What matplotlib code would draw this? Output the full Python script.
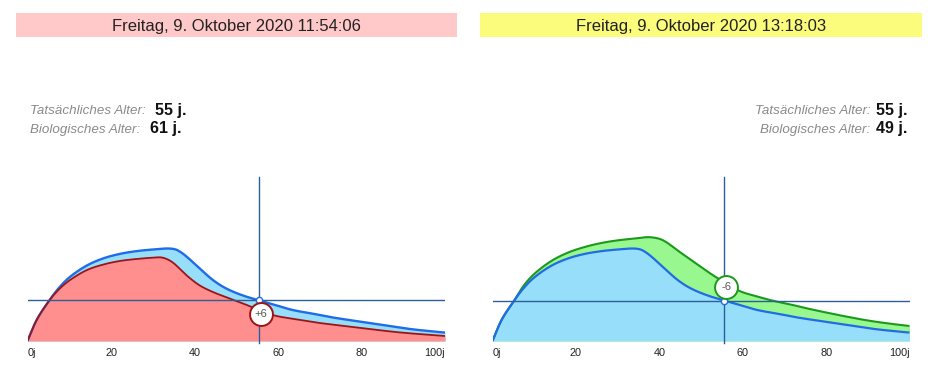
import numpy as np
import matplotlib
matplotlib.use("Agg")
import matplotlib.pyplot as plt
from matplotlib.patches import Rectangle
from matplotlib.transforms import offset_copy

plt.rcParams['font.family'] = ['Liberation Sans', 'DejaVu Sans']

# ---------------- data ----------------
headers = ["Freitag, 9. Oktober 2020 11:54:06", "Freitag, 9. Oktober 2020 13:18:03"]
actual_ages = [55, 55]            # shown in the text
actual_ages_exact = [55.4, 55.6]  # position of the cross-hair
bio_ages = [61, 49]
label_actual = "Tatsächliches Alter:"
label_bio = "Biologisches Alter:"
tick_pos = [0, 20, 40, 60, 80, 100]
tick_labels = ["0j", "20", "40", "60", "80", "100j"]

# reference (ideal) curve, shown blue in both panels
blue_age = [0, 2.15, 5.2, 7.5, 10, 14, 18, 22, 26, 30, 33.5, 35.5, 37, 38.5,
            41, 44.4, 47.6, 51.6, 55.4, 59.6, 63.5, 69, 73, 77, 81, 85, 89, 93, 100]
blue_val = [0, 20.7, 40.4, 53, 63.5, 75, 82.4, 87, 89.8, 91.5, 92.5, 91.5, 88,
            83, 73.5, 61, 52.5, 45.5, 40.7, 35.7, 31, 26.8, 23.6, 21, 18.5, 16,
            13.5, 11.3, 8.4]

# biological curve, left panel (older: red)
red_age = [0, 2.15, 5.2, 7.5, 10.1, 14.1, 18.1, 22.1, 26.1, 30, 32.4, 34.8,
           38, 41.2, 44.4, 47.6, 51.6, 54, 58.8, 63.5, 69.1, 73.1, 81.1, 89.1, 100]
red_val = [0, 20.7, 40.4, 51.5, 60.7, 70.7, 76.4, 80, 82, 83.3, 83.3, 78.5,
           66, 55.7, 49, 43.8, 37.6, 33.4, 25.9, 22.2, 18.5, 16.4, 12.4, 8.6, 5]

# biological curve, right panel (younger: green)
green_age = [0, 2.15, 5.2, 7.5, 10.1, 14.1, 18.1, 22.1, 26.1, 30.1, 34.1, 37.7,
             40.9, 44.9, 48.9, 52.9, 59, 63, 67, 71, 75, 80, 85, 90, 95, 100]
green_val = [0, 21, 40.4, 55.5, 67.4, 80, 88.4, 94, 98, 100.7, 102.4, 103.8,
             100.7, 89, 77.4, 65.7, 50.5, 45, 40.5, 37, 33, 28.5, 24.3, 20.5,
             17.5, 15]


def smooth(x, y, xn):
    """Cubic Hermite curve through the points, finite-difference tangents."""
    x = np.asarray(x, float); y = np.asarray(y, float)
    h = np.diff(x); d = np.diff(y) / h
    m = np.zeros_like(y)
    m[1:-1] = (y[2:] - y[:-2]) / (x[2:] - x[:-2])
    m[0] = d[0]; m[-1] = d[-1]
    idx = np.clip(np.searchsorted(x, xn) - 1, 0, len(h) - 1)
    t = (xn - x[idx]) / h[idx]
    h00 = 2 * t**3 - 3 * t**2 + 1; h10 = t**3 - 2 * t**2 + t
    h01 = -2 * t**3 + 3 * t**2; h11 = t**3 - t**2
    return h00 * y[idx] + h10 * h[idx] * m[idx] + h01 * y[idx + 1] + h11 * h[idx] * m[idx + 1]


W, H = 940, 386
fig = plt.figure(figsize=(W / 100, H / 100), dpi=100)

def fx(px): return px / W
def fy(py): return 1 - py / H

BLUE_FILL = "#97DEFA"; BLUE_LINE = "#1F6BE8"
RED_FILL = "#FF8E8E"; RED_LINE = "#9E1414"
GREEN_FILL = "#98F78E"; GREEN_LINE = "#1A9A1A"
CROSS = "#2E5E9A"

panels = [
    dict(x0=27.5, x1=445.0, bar=(16, 457), bar_color="#FFC9C9",
         bio=(red_age, red_val), bio_fill=RED_FILL, bio_line=RED_LINE, older=True),
    dict(x0=492.5, x1=909.5, bar=(480, 922), bar_color="#FBFB7C",
         bio=(green_age, green_val), bio_fill=GREEN_FILL, bio_line=GREEN_LINE, older=False),
]

ybase, ytop = 341.0, 177.0
for i, p in enumerate(panels):
    # header bar
    bx0, bx1 = p['bar']
    fig.add_artist(Rectangle((fx(bx0), fy(37)), (bx1 - bx0) / W, 24 / H,
                             transform=fig.transFigure, facecolor=p['bar_color'],
                             edgecolor='none', zorder=0))
    fig.text(fx((bx0 + bx1) / 2), fy(30.5), headers[i], ha='center', va='baseline',
             fontsize=12, color='#222222')

    ax = fig.add_axes([fx(p['x0']), fy(ybase + 3), (p['x1'] - p['x0']) / W, (ybase + 3 - ytop) / H])
    ax.set_xlim(0, 100)
    ax.set_ylim(-3, ybase - ytop)
    ax.axis('off')

    xs = np.linspace(0, 100, 800)
    yb = smooth(blue_age, blue_val, xs)
    ya, yv = p['bio']
    yo = smooth(ya, yv, xs)
    if p['older']:
        ax.fill_between(xs, 0, yb, color=BLUE_FILL, lw=0, zorder=1)
        ax.fill_between(xs, 0, yo, color=p['bio_fill'], lw=0, zorder=2)
        ax.plot(xs, yb, color=BLUE_LINE, lw=1.7, zorder=3, solid_capstyle='butt')
        ax.plot(xs, yo, color=p['bio_line'], lw=1.3, zorder=4, solid_capstyle='butt')
    else:
        ax.fill_between(xs, 0, yo, color=p['bio_fill'], lw=0, zorder=1)
        ax.fill_between(xs, 0, yb, color=BLUE_FILL, lw=0, zorder=2)
        ax.plot(xs, yo, color=p['bio_line'], lw=1.5, zorder=3, solid_capstyle='butt')
        ax.plot(xs, yb, color=BLUE_LINE, lw=1.6, zorder=4, solid_capstyle='butt')

    age = actual_ages_exact[i]
    level = float(smooth(blue_age, blue_val, np.array([age]))[0])
    bio_level = float(smooth(ya, yv, np.array([age]))[0])
    ax.axhline(level, color=CROSS, lw=1.0, zorder=5)
    ax.plot([age, age], [-2, ybase - ytop], color=CROSS, lw=1.0, zorder=5, clip_on=False)
    ax.plot([age], [level], marker='o', ms=4.5, mfc='white', mec=BLUE_LINE, mew=1.0, zorder=7)
    # bubble sits slightly below the biological curve
    btr = offset_copy(ax.transData, fig=fig, x=1.5, y=-3.0, units='points')
    ax.plot([age], [bio_level], marker='o', ms=16.5, mfc='white', mec=p['bio_line'],
            mew=1.4, zorder=8, transform=btr)
    diff = bio_ages[i] - actual_ages[i]
    ax.text(age, bio_level, f"{diff:+d}", ha='center', va='center', fontsize=8,
            color='#555555', zorder=9, transform=btr)

    # tick labels
    for tp, tl in zip(tick_pos, tick_labels):
        ha = 'left' if tp == 0 else ('right' if tp == 100 else 'center')
        ax.text(tp, -11.5, tl, ha=ha, va='center', fontsize=7.8, color='#222222',
                clip_on=False)

    # age labels
    if i == 0:
        for yy, lab, val in [(114.5, label_actual, actual_ages[i]), (133.5, label_bio, bio_ages[i])]:
            t = fig.text(fx(30.5), fy(yy), lab, ha='left', va='baseline', fontsize=9.6,
                         style='italic', color='#8A8A8A')
            fig.canvas.draw()
            bb = t.get_window_extent()
            fig.text(bb.x1 / W + 9 / W, fy(yy), f"{val} j.", ha='left', va='baseline',
                     fontsize=11.5, fontweight='bold', color='#111111')
    else:
        for yy, lab, val in [(114.5, label_actual, actual_ages[i]), (133.5, label_bio, bio_ages[i])]:
            t = fig.text(fx(907), fy(yy), f"{val} j.", ha='right', va='baseline',
                         fontsize=11.5, fontweight='bold', color='#111111')
            fig.canvas.draw()
            bb = t.get_window_extent()
            fig.text(bb.x0 / W - 5 / W, fy(yy), lab, ha='right', va='baseline',
                     fontsize=9.6, style='italic', color='#8A8A8A')

fig.savefig("out.png", dpi=100)
